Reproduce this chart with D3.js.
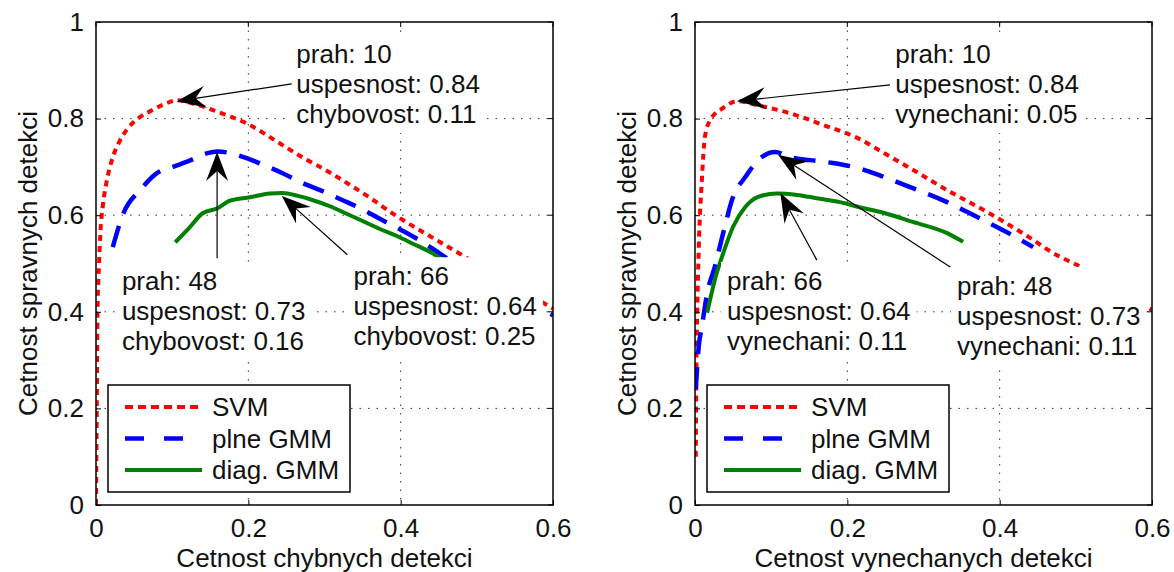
<!DOCTYPE html>
<html>
<head>
<meta charset="utf-8">
<script src="https://cdn.jsdelivr.net/npm/d3@7"></script>
<style>
  body { margin: 0; background: #fff; }
  text { font-family: "Liberation Sans", Arial, sans-serif; fill: #111; }
</style>
</head>
<body>
<svg id="chart" width="1174" height="572"></svg>
<script>
// Tick values shared by both panels
const xTicks = [0, 0.2, 0.4, 0.6];
const yTicks = [0, 0.2, 0.4, 0.6, 0.8, 1];
const legendNames = ["SVM", "plne GMM", "diag. GMM"];

// Left panel: [false detection rate, correct detection rate]
const leftSvm = [[0, 0], [0.001, 0.2], [0.002, 0.4], [0.004, 0.5], [0.006, 0.57], [0.009, 0.62], [0.014, 0.67],
  [0.022, 0.72], [0.03, 0.75], [0.04, 0.776], [0.055, 0.8], [0.071, 0.815], [0.09, 0.83], [0.106, 0.838],
  [0.125, 0.832], [0.146, 0.822], [0.17, 0.808], [0.198, 0.79], [0.22, 0.77], [0.245, 0.745], [0.275, 0.716],
  [0.3, 0.695], [0.324, 0.672], [0.355, 0.641], [0.39, 0.603], [0.425, 0.569], [0.451, 0.545], [0.481, 0.517],
  [0.52, 0.48], [0.56, 0.443], [0.6, 0.407]];
const leftFull = [[0.022, 0.534], [0.036, 0.604], [0.058, 0.652], [0.08, 0.687], [0.101, 0.7], [0.123, 0.713],
  [0.145, 0.728], [0.16, 0.732], [0.178, 0.728], [0.198, 0.718], [0.22, 0.704], [0.245, 0.687], [0.272, 0.666],
  [0.3, 0.648], [0.324, 0.631], [0.35, 0.612], [0.372, 0.593], [0.4, 0.57], [0.425, 0.548], [0.451, 0.521],
  [0.5, 0.47], [0.55, 0.43], [0.6, 0.393]];
const leftDiag = [[0.104, 0.544], [0.123, 0.575], [0.14, 0.604], [0.159, 0.614], [0.176, 0.63], [0.202, 0.637],
  [0.228, 0.645], [0.245, 0.646], [0.265, 0.64], [0.285, 0.631], [0.308, 0.618], [0.329, 0.603], [0.35, 0.588],
  [0.372, 0.572], [0.395, 0.557], [0.416, 0.541], [0.442, 0.521], [0.47, 0.49]];

// Right panel: [missed detection rate, correct detection rate]
const rightSvm = [[0.001, 0.1], [0.002, 0.3], [0.003, 0.404], [0.005, 0.534], [0.009, 0.673], [0.013, 0.762],
  [0.02, 0.797], [0.037, 0.822], [0.055, 0.836], [0.081, 0.828], [0.125, 0.811], [0.168, 0.787], [0.213, 0.76],
  [0.252, 0.725], [0.286, 0.694], [0.331, 0.652], [0.383, 0.607], [0.43, 0.563], [0.479, 0.514], [0.499, 0.499],
  [0.55, 0.45], [0.6, 0.404]];
const rightFull = [[0.001, 0.24], [0.005, 0.33], [0.009, 0.369], [0.016, 0.439], [0.026, 0.493], [0.037, 0.563],
  [0.05, 0.638], [0.066, 0.679], [0.083, 0.714], [0.105, 0.731], [0.125, 0.72], [0.151, 0.714], [0.181, 0.708],
  [0.213, 0.698], [0.245, 0.681], [0.286, 0.656], [0.331, 0.627], [0.357, 0.607], [0.383, 0.586], [0.409, 0.565],
  [0.444, 0.534]];
const rightDiag = [[0.016, 0.398], [0.026, 0.466], [0.037, 0.521], [0.05, 0.576], [0.066, 0.617],
  [0.083, 0.638], [0.108, 0.645], [0.134, 0.642], [0.16, 0.635], [0.19, 0.627], [0.22, 0.615], [0.245, 0.606],
  [0.286, 0.586], [0.331, 0.563], [0.352, 0.545]];

// Annotation texts with their anchor (data units) and arrow tail/tip (data units)
const leftNotes = [
  { lines: ["prah: 10", "uspesnost: 0.84", "chybovost: 0.11"], at: [0.263, 0.915], from: [0.257, 0.872], to: [0.106, 0.836] },
  { lines: ["prah: 48", "uspesnost: 0.73", "chybovost: 0.16"], at: [0.034, 0.445], from: [0.159, 0.511], to: [0.159, 0.731] },
  { lines: ["prah: 66", "uspesnost: 0.64", "chybovost: 0.25"], at: [0.338, 0.455], from: [0.330, 0.518], to: [0.244, 0.640] }
];
const rightNotes = [
  { lines: ["prah: 10", "uspesnost: 0.84", "vynechani: 0.05"], at: [0.263, 0.915], from: [0.256, 0.870], to: [0.055, 0.836] },
  { lines: ["prah: 66", "uspesnost: 0.64", "vynechani: 0.11"], at: [0.042, 0.445], from: [0.160, 0.507], to: [0.112, 0.646] },
  { lines: ["prah: 48", "uspesnost: 0.73", "vynechani: 0.11"], at: [0.344, 0.435], from: [0.335, 0.493], to: [0.109, 0.725] }
];

const styles = [
  { color: "#ff0000", dash: "6,5", width: 4 },
  { color: "#0000ff", dash: "22,13", width: 4.5 },
  { color: "#008000", dash: null, width: 4 }
];

const svg = d3.select("#chart");
const fontSize = 26;

function drawPanel(left, right, series, notes, xLabel, id) {
  const top = 22, bottom = 505;
  const x = d3.scaleLinear().domain([0, 0.6]).range([left, right]);
  const y = d3.scaleLinear().domain([0, 1]).range([bottom, top]);
  const g = svg.append("g");

  // clip region for the curves
  svg.append("clipPath").attr("id", "clip" + id)
    .append("rect").attr("x", left).attr("y", top).attr("width", right - left).attr("height", bottom - top);

  // dotted grid
  g.selectAll(".gx").data(xTicks.slice(1, -1)).enter().append("line")
    .attr("x1", d => x(d)).attr("x2", d => x(d)).attr("y1", top).attr("y2", bottom)
    .attr("stroke", "#333").attr("stroke-width", 1).attr("stroke-dasharray", "1.5,7");
  g.selectAll(".gy").data(yTicks.slice(1, -1)).enter().append("line")
    .attr("y1", d => y(d)).attr("y2", d => y(d)).attr("x1", left).attr("x2", right)
    .attr("stroke", "#333").attr("stroke-width", 1).attr("stroke-dasharray", "1.5,7");

  // curves
  const line = d3.line().x(d => x(d[0])).y(d => y(d[1])).curve(d3.curveMonotoneX);
  const cg = g.append("g").attr("clip-path", `url(#clip${id})`);
  series.forEach((s, i) => {
    cg.append("path").datum(s).attr("d", line).attr("fill", "none")
      .attr("stroke", styles[i].color).attr("stroke-width", styles[i].width)
      .attr("stroke-dasharray", styles[i].dash);
  });

  // annotation boxes with white background
  notes.forEach(n => {
    const tx = x(n.at[0]), ty = y(n.at[1]);
    const tg = g.append("g");
    const txt = tg.append("text").attr("font-size", fontSize);
    n.lines.forEach((l, k) => {
      txt.append("tspan").attr("x", tx).attr("y", ty + k * 30).text(l);
    });
    const bb = txt.node().getBBox();
    tg.insert("rect", "text").attr("x", bb.x - 6).attr("y", bb.y - 4)
      .attr("width", bb.width + 12).attr("height", bb.height + 8).attr("fill", "#fff");
  });

  // arrows
  notes.forEach(n => {
    const x1 = x(n.from[0]), y1 = y(n.from[1]), x2 = x(n.to[0]), y2 = y(n.to[1]);
    const ang = Math.atan2(y2 - y1, x2 - x1);
    const len = 29, wid = 11, back = 19;
    g.append("line").attr("x1", x1).attr("y1", y1)
      .attr("x2", x2 - Math.cos(ang) * back).attr("y2", y2 - Math.sin(ang) * back)
      .attr("stroke", "#000").attr("stroke-width", 1.2);
    const pts = [
      [0, 0], [-len, -wid], [-back, 0], [-len, wid]
    ].map(p => [x2 + p[0] * Math.cos(ang) - p[1] * Math.sin(ang), y2 + p[0] * Math.sin(ang) + p[1] * Math.cos(ang)]);
    g.append("path").attr("d", "M" + pts.join("L") + "Z").attr("fill", "#000");
  });

  // axes box and ticks
  g.append("rect").attr("x", left).attr("y", top).attr("width", right - left).attr("height", bottom - top)
    .attr("fill", "none").attr("stroke", "#000").attr("stroke-width", 1.5);
  const ax = g.append("g").attr("transform", `translate(0,${bottom})`)
    .call(d3.axisBottom(x).tickValues(xTicks).tickSize(-5).tickPadding(14).tickFormat(d3.format("~g")));
  const ay = g.append("g").attr("transform", `translate(${left},0)`)
    .call(d3.axisLeft(y).tickValues(yTicks).tickSize(-5).tickPadding(12).tickFormat(d3.format("~g")));
  [ax, ay].forEach(a => {
    a.select(".domain").remove();
    a.selectAll("text").attr("font-size", fontSize).attr("fill", "#111")
      .attr("font-family", "Liberation Sans, Arial, sans-serif");
    a.selectAll("line").attr("stroke", "#000");
  });
  ax.selectAll("text").attr("dy", "0.71em").attr("y", 14);
  // ticks on top and right too
  g.selectAll(".tt").data(xTicks).enter().append("line")
    .attr("x1", d => x(d)).attr("x2", d => x(d)).attr("y1", top).attr("y2", top + 5).attr("stroke", "#000");
  g.selectAll(".tr").data(yTicks).enter().append("line")
    .attr("y1", d => y(d)).attr("y2", d => y(d)).attr("x1", right).attr("x2", right - 5).attr("stroke", "#000");

  // axis labels
  g.append("text").attr("x", (left + right) / 2).attr("y", 567).attr("text-anchor", "middle")
    .attr("font-size", fontSize).text(xLabel);
  g.append("text").attr("transform", `translate(${left - 59},${(top + bottom) / 2}) rotate(-90)`)
    .attr("text-anchor", "middle").attr("font-size", fontSize).text("Cetnost spravnych detekci");

  // legend
  const lx = left + 12, ly = 385;
  const lg = g.append("g");
  lg.append("rect").attr("x", lx).attr("y", ly).attr("width", 242).attr("height", 107)
    .attr("fill", "#fff").attr("stroke", "#000").attr("stroke-width", 1.5);
  legendNames.forEach((name, i) => {
    const yy = ly + 22 + i * 31.5;
    lg.append("line").attr("x1", lx + 17).attr("x2", lx + 94).attr("y1", yy).attr("y2", yy)
      .attr("stroke", styles[i].color).attr("stroke-width", styles[i].width)
      .attr("stroke-dasharray", i === 0 ? "8,5" : (i === 1 ? "19,20" : null));
    lg.append("text").attr("x", lx + 104).attr("y", yy + 9).attr("font-size", fontSize).text(name);
  });
}

drawPanel(96, 553, [leftSvm, leftFull, leftDiag], leftNotes, "Cetnost chybnych detekci", "L");
drawPanel(695, 1152, [rightSvm, rightFull, rightDiag], rightNotes, "Cetnost vynechanych detekci", "R");
</script>
</body>
</html>
